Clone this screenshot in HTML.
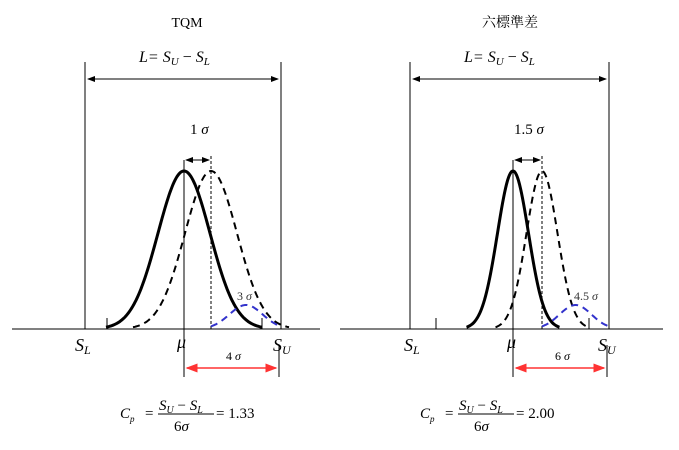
<!DOCTYPE html><html><head><style>body{margin:0;background:#fff}svg{display:block}text{font-family:"Liberation Serif","Noto Serif CJK SC",serif}</style></head><body>
<svg id="s" width="679" height="450" viewBox="0 0 679 450" xmlns="http://www.w3.org/2000/svg">
<defs><marker id="a" markerWidth="8" markerHeight="8" refX="7" refY="4" orient="auto-start-reverse"><path d="M0,1 L8,4 L0,7z" fill="#000"/></marker>
<marker id="r" markerWidth="8" markerHeight="8" refX="7" refY="4" orient="auto-start-reverse"><path d="M0,1 L8,4 L0,7z" fill="#f33"/></marker></defs>
<g id="g"></g>
<text x="187" y="27" font-size="14" text-anchor="middle">TQM</text>
<text x="510" y="27" font-size="14" text-anchor="middle">六標準差</text>
<text x="139" y="62" font-size="16" font-style="italic">L= S<tspan font-size="11" dy="3">U</tspan><tspan dy="-3" font-style="normal"> − </tspan>S<tspan font-size="11" dy="3">L</tspan></text>
<text x="464" y="62" font-size="16" font-style="italic">L= S<tspan font-size="11" dy="3">U</tspan><tspan dy="-3" font-style="normal"> − </tspan>S<tspan font-size="11" dy="3">L</tspan></text>
<text x="190" y="134" font-size="15">1 <tspan font-style="italic">σ</tspan></text>
<text x="514" y="134" font-size="15">1.5 <tspan font-style="italic">σ</tspan></text>
<text x="237" y="300" font-size="12" fill="#333">3 <tspan font-style="italic">σ</tspan></text>
<text x="574" y="300" font-size="12" fill="#333">4.5 <tspan font-style="italic">σ</tspan></text>
<text x="226" y="360" font-size="12">4 <tspan font-style="italic">σ</tspan></text>
<text x="555" y="360" font-size="12">6 <tspan font-style="italic">σ</tspan></text>
<g font-size="18" font-style="italic">
<text x="75" y="351">S<tspan font-size="12" dy="3">L</tspan></text>
<text x="177" y="348">μ</text>
<text x="273" y="351">S<tspan font-size="12" dy="3">U</tspan></text>
<text x="404" y="351">S<tspan font-size="12" dy="3">L</tspan></text>
<text x="507" y="348">μ</text>
<text x="598" y="351">S<tspan font-size="12" dy="3">U</tspan></text>
</g>
<g font-size="15">
<text x="120" y="418" font-style="italic">C<tspan font-size="9" dy="4">p</tspan></text>
<text x="145" y="418">=</text>
<text x="159" y="410" font-style="italic">S<tspan font-size="10" dy="3">U</tspan><tspan dy="-3" font-style="normal"> − </tspan>S<tspan font-size="10" dy="3">L</tspan></text>
<line x1="158" y1="414" x2="214" y2="414" stroke="#000"/>
<text x="174" y="431">6<tspan font-style="italic">σ</tspan></text>
<text x="216" y="418">= 1.33</text>
<text x="420" y="418" font-style="italic">C<tspan font-size="9" dy="4">p</tspan></text>
<text x="445" y="418">=</text>
<text x="459" y="410" font-style="italic">S<tspan font-size="10" dy="3">U</tspan><tspan dy="-3" font-style="normal"> − </tspan>S<tspan font-size="10" dy="3">L</tspan></text>
<line x1="458" y1="414" x2="514" y2="414" stroke="#000"/>
<text x="474" y="431">6<tspan font-style="italic">σ</tspan></text>
<text x="516" y="418">= 2.00</text>
</g>
</svg>
<script>
var g=document.getElementById('g'),h='';
function L(x1,y1,x2,y2,a){h+='<line x1="'+x1+'" y1="'+y1+'" x2="'+x2+'" y2="'+y2+'" stroke="#000" stroke-width="1" '+(a||'')+'/>';}
function G(c,s,x0,x1,st,peak,base){var d='';for(var x=x0;x<=x1;x+=1){var y=base-peak*Math.exp(-0.5*Math.pow((x-c)/s,2));d+=(x==x0?'M':'L')+x+','+y.toFixed(1);}h+='<path d="'+d+'" fill="none" '+st+'/>';}
function P(o){var B=329;
L(o.b0,B,o.b1,B);L(o.sl,62,o.sl,B);L(o.su,62,o.su,B);L(o.mu,160,o.mu,377);L(o.su-2,345,o.su-2,377);
L(o.sl+3,79,o.su-3,79,'marker-start="url(#a)" marker-end="url(#a)"');
L(o.mu+2,160,o.c2-2,160,'marker-start="url(#a)" marker-end="url(#a)"');
L(o.c2,156,o.c2,B,'stroke-dasharray="3,2" stroke="'+o.dc+'"');
L(o.t1,318,o.t1,B);L(o.t2,318,o.t2,B);
h+='<line x1="'+(o.mu+3)+'" y1="368" x2="'+(o.su-5)+'" y2="368" stroke="#f33" stroke-width="1.5" marker-start="url(#r)" marker-end="url(#r)"/>';
G(o.mu,o.s,o.mu-3*o.s,o.mu+3*o.s,'stroke="#000" stroke-width="3"',158,B);
G(o.c2,o.s,o.c2-3*o.s,o.c2+3*o.s,'stroke="#000" stroke-width="2" stroke-dasharray="7,5"',158,B);
var bc=(o.c2+o.su)/2,bs=(o.su-o.c2)/4.2;G(bc,bs,o.c2,o.su,'stroke="#33c" stroke-width="2" stroke-dasharray="7,5"',24,B);}
P({b0:12,b1:320,sl:85,su:281,mu:184,c2:211,s:26,t1:107,t2:262,dc:"#080"});
P({b0:340,b1:663,sl:410,su:609,mu:513,c2:542,s:15.5,t1:436,t2:589,dc:"#000"});
g.innerHTML=h;
</script>
</body></html>
